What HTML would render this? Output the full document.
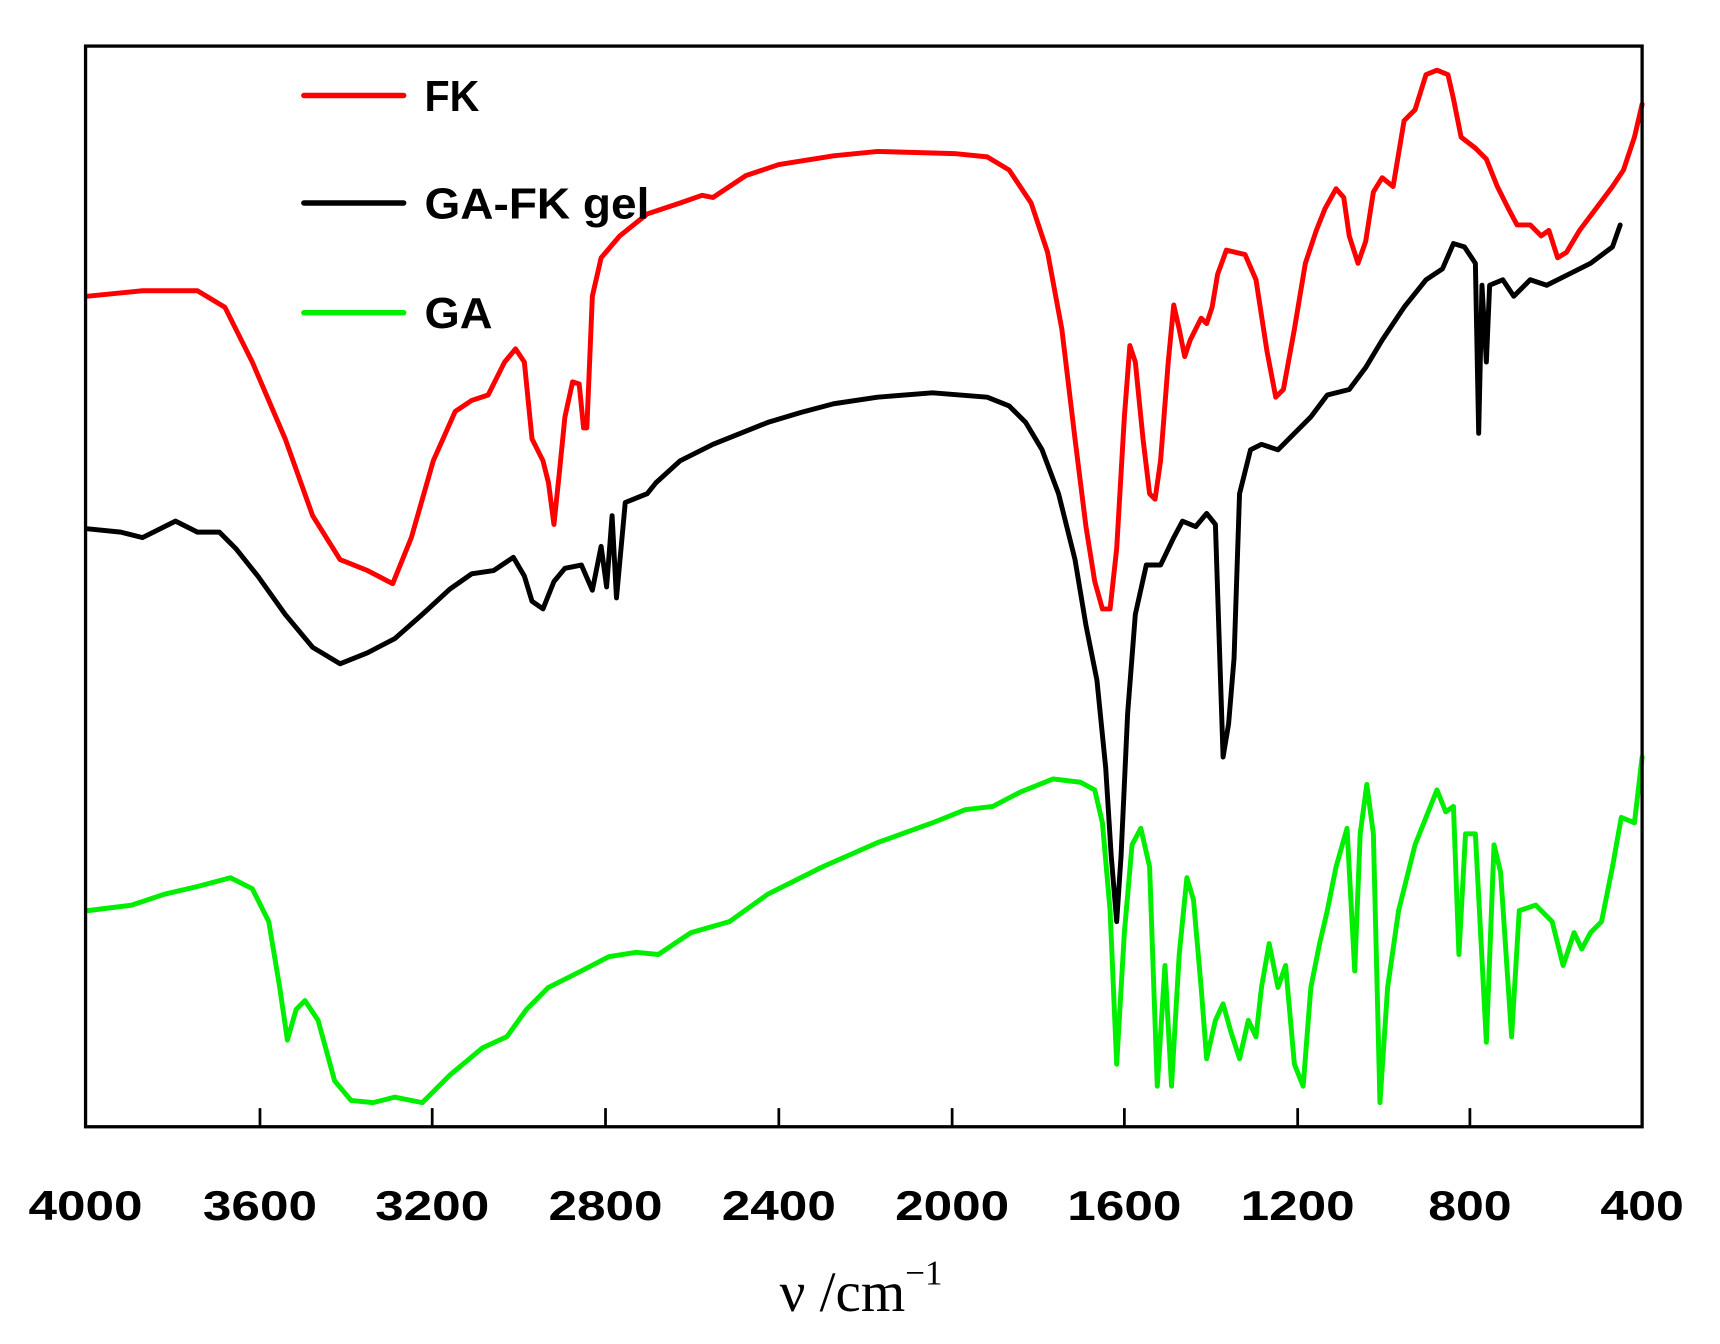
<!DOCTYPE html>
<html><head><meta charset="utf-8"><style>html,body{margin:0;padding:0;background:#fff}svg{display:block}</style></head>
<body>
<svg width="1720" height="1344" viewBox="0 0 1568 1225" preserveAspectRatio="none" xmlns="http://www.w3.org/2000/svg">
<rect x="0" y="0" width="1568" height="1225" fill="#fff"/>
<g fill="none" stroke-width="4.5" stroke-linejoin="round" stroke-linecap="round">
<polyline stroke="#ff0000" points="80,270 130,265 180,265 205,280 230,330 260,400 285,470 310,510 335,520 358,532 375,490 395,420 415,375 430,365 445,360 460,330 470,318 478,330 485,400 490,410 495,420 500,440 505,478 510,430 515,380 522,348 528,350 532,390 535,390 540,270 548,235 565,215 590,195 620,185 640,178 650,180 680,160 710,150 760,142 800,138 870,140 900,143 920,155 940,185 955,230 968,300 980,400 990,480 998,530 1005,555 1012,555 1018,500 1025,380 1030,315 1035,330 1042,400 1048,450 1053,455 1058,420 1065,330 1070,278 1075,300 1080,325 1085,310 1090,300 1095,290 1100,295 1105,280 1110,250 1118,228 1135,232 1145,255 1155,320 1163,362 1170,355 1180,300 1190,240 1200,210 1208,190 1218,172 1225,180 1230,215 1238,240 1245,220 1252,175 1260,162 1270,170 1280,110 1290,100 1300,68 1310,64 1320,68 1325,90 1332,125 1345,135 1355,145 1365,170 1375,190 1383,205 1395,205 1405,215 1412,210 1420,235 1428,230 1440,210 1455,190 1470,170 1480,155 1490,125 1497,95"/>
<polyline stroke="#000000" points="80,482 110,485 130,490 160,475 180,485 200,485 215,500 235,525 260,560 285,590 310,605 335,595 360,582 385,560 410,537 430,523 450,520 468,508 478,525 485,548 495,555 505,530 515,518 530,515 540,538 548,498 553,535 558,470 562,545 570,458 590,450 598,440 620,420 650,405 700,385 730,376 760,368 800,362 850,358 900,362 920,370 935,385 950,410 965,450 980,510 990,570 1000,620 1008,700 1013,780 1018,840 1022,780 1028,650 1035,560 1045,515 1058,515 1070,490 1078,475 1090,480 1100,468 1108,478 1112,600 1115,690 1120,660 1125,600 1130,450 1140,410 1150,405 1165,410 1180,395 1195,380 1210,360 1230,355 1245,335 1260,310 1280,280 1300,255 1315,245 1325,222 1335,225 1345,240 1348,395 1351,260 1355,330 1358,260 1370,255 1380,270 1395,255 1410,260 1430,250 1450,240 1470,225 1477,205"/>
<polyline stroke="#00ee00" points="80,830 120,825 150,815 180,808 210,800 230,810 245,840 255,900 262,948 270,920 278,912 290,930 305,985 320,1003 340,1005 360,1000 385,1005 410,980 440,955 462,945 480,920 500,900 530,885 555,872 580,868 600,870 630,850 665,840 700,815 750,790 800,768 850,750 880,738 905,735 930,722 960,710 985,713 998,720 1005,750 1012,830 1018,970 1025,850 1032,770 1040,755 1048,790 1055,990 1062,880 1068,990 1075,870 1082,800 1088,820 1095,900 1100,965 1108,930 1115,915 1122,940 1130,965 1138,930 1145,945 1150,900 1157,860 1165,900 1172,880 1180,970 1188,990 1195,900 1203,860 1210,830 1218,790 1228,755 1235,885 1240,760 1246,715 1252,760 1258,1005 1265,900 1275,830 1290,770 1302,740 1310,720 1318,740 1325,735 1330,870 1336,760 1345,760 1355,950 1362,770 1368,795 1378,945 1385,830 1400,825 1415,840 1425,880 1435,850 1442,865 1450,850 1460,840 1470,790 1478,745 1490,750 1497,690"/>
</g>
<rect x="78" y="42" width="1419" height="985" fill="none" stroke="#000" stroke-width="3"/>
<g stroke="#000" stroke-width="2.5">
<line x1="237" y1="1027" x2="237" y2="1010"/><line x1="394" y1="1027" x2="394" y2="1010"/><line x1="552" y1="1027" x2="552" y2="1010"/><line x1="710" y1="1027" x2="710" y2="1010"/><line x1="868" y1="1027" x2="868" y2="1010"/><line x1="1025" y1="1027" x2="1025" y2="1010"/><line x1="1183" y1="1027" x2="1183" y2="1010"/><line x1="1340" y1="1027" x2="1340" y2="1010"/>
</g>
<g font-family="Liberation Sans, sans-serif" font-weight="bold" font-size="38" text-anchor="middle" fill="#000">
<text x="78" y="1112" textLength="104" lengthAdjust="spacingAndGlyphs">4000</text><text x="237" y="1112" textLength="104" lengthAdjust="spacingAndGlyphs">3600</text><text x="394" y="1112" textLength="104" lengthAdjust="spacingAndGlyphs">3200</text><text x="552" y="1112" textLength="104" lengthAdjust="spacingAndGlyphs">2800</text><text x="710" y="1112" textLength="104" lengthAdjust="spacingAndGlyphs">2400</text><text x="868" y="1112" textLength="104" lengthAdjust="spacingAndGlyphs">2000</text><text x="1025" y="1112" textLength="104" lengthAdjust="spacingAndGlyphs">1600</text><text x="1183" y="1112" textLength="104" lengthAdjust="spacingAndGlyphs">1200</text><text x="1340" y="1112" textLength="76" lengthAdjust="spacingAndGlyphs">800</text><text x="1497" y="1112" textLength="76" lengthAdjust="spacingAndGlyphs">400</text>
</g>
<text x="785" y="1195" font-family="Liberation Serif, serif" font-size="52" text-anchor="middle" fill="#000">ν /cm<tspan font-size="32" dy="-24">−1</tspan></text>
<g stroke-width="5" stroke-linecap="round">
<line x1="277" y1="87" x2="368" y2="87" stroke="#ff0000"/>
<line x1="277" y1="185" x2="368" y2="185" stroke="#000"/>
<line x1="277" y1="285" x2="368" y2="285" stroke="#00ee00"/>
</g>
<g font-family="Liberation Sans, sans-serif" font-weight="bold" font-size="40" fill="#000">
<text x="387" y="101" textLength="50" lengthAdjust="spacingAndGlyphs">FK</text><text x="387" y="199" textLength="205" lengthAdjust="spacingAndGlyphs">GA-FK gel</text><text x="387" y="299" textLength="62" lengthAdjust="spacingAndGlyphs">GA</text>
</g>
</svg>
</body></html>
